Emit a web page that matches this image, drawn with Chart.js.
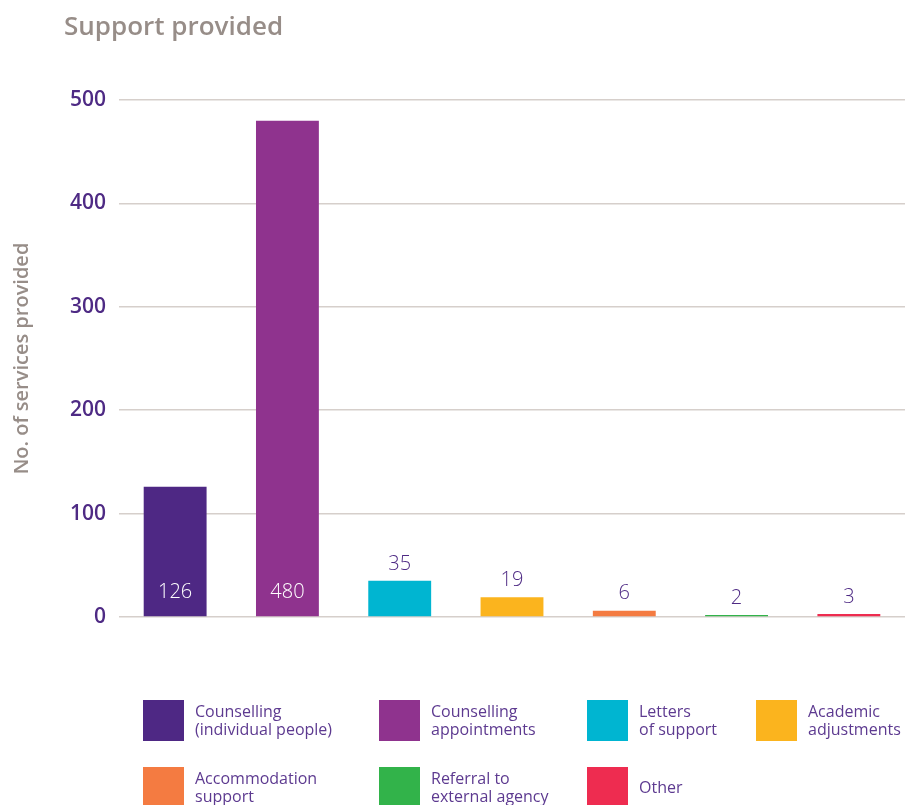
<!DOCTYPE html>
<html>
<head>
<meta charset="utf-8">
<script src="https://cdn.jsdelivr.net/npm/chart.js@4.4.1/dist/chart.umd.min.js"></script>
<style>
    html, body { margin: 0; padding: 0; background: #fff; }
    #wrap { position: relative; width: 905px; height: 805px; overflow: hidden; }
</style>
</head>
<body>
<div id="wrap"><canvas id="graficoApoyo" width="905" height="805"></canvas></div>
<script>
// --- Datos ---
const categorias = [
    "Counselling (individual people)",
    "Counselling appointments",
    "Letters of support",
    "Academic adjustments",
    "Accommodation support",
    "Referral to external agency",
    "Other"
];
const leyendaLineas = [
    ["Counselling", "(individual people)"],
    ["Counselling", "appointments"],
    ["Letters", "of support"],
    ["Academic", "adjustments"],
    ["Accommodation", "support"],
    ["Referral to", "external agency"],
    ["Other"]
];
const valores = [126, 480, 35, 19, 6, 2, 3];
const colores = ["#4e2884", "#8f338e", "#00b5d1", "#fbb41e", "#f47b41", "#32b34a", "#ee2c50"];
const ticksY = [0, 100, 200, 300, 400, 500];

const FUENTE = "'Open Sans', 'Noto Sans', sans-serif";
const MORADO = "#4e2a84";
const GRIS = "#978d88";

// --- Titulo arriba a la izquierda ---
const tituloPlugin = {
    id: "titulo",
    afterDraw(chart) {
        const ctx = chart.ctx;
        ctx.save();
        ctx.font = "600 26px " + FUENTE;
        ctx.fillStyle = GRIS;
        ctx.textAlign = "left";
        ctx.textBaseline = "alphabetic";
        ctx.fillText("Support provided", 64, 35);
        ctx.restore();
    }
};

// --- Etiquetas de valor: dentro de la barra si cabe, encima si no ---
const etiquetasPlugin = {
    id: "etiquetas",
    afterDatasetsDraw(chart) {
        const ctx = chart.ctx;
        const meta = chart.getDatasetMeta(0);
        const base = chart.scales.y.getPixelForValue(0);
        ctx.save();
        ctx.font = "300 20px " + FUENTE;
        ctx.textAlign = "center";
        ctx.textBaseline = "middle";
        meta.data.forEach((bar, i) => {
            const alto = base - bar.y;
            if (alto > 60) {
                ctx.fillStyle = "#ffffff";
                ctx.fillText(valores[i], bar.x, base - 25);
            } else {
                ctx.fillStyle = MORADO;
                ctx.fillText(valores[i], bar.x, bar.y - 17);
            }
        });
        ctx.restore();
    }
};

// --- Leyenda en cuadricula de 4 columnas ---
const leyendaPlugin = {
    id: "leyendaCuadros",
    afterDraw(chart) {
        const ctx = chart.ctx;
        const columnas = [143, 379, 587, 756];
        const filas = [700, 767];
        const lado = 41;
        ctx.save();
        ctx.font = "400 16px " + FUENTE;
        ctx.textAlign = "left";
        ctx.textBaseline = "middle";
        categorias.forEach((c, i) => {
            const x = columnas[i % 4];
            const y = filas[Math.floor(i / 4)];
            ctx.fillStyle = colores[i];
            ctx.fillRect(x, y, lado, lado);
            ctx.fillStyle = "#5d3a90";
            const lineas = leyendaLineas[i];
            const centro = y + lado / 2 + 1;
            const alto = 18;
            lineas.forEach((t, k) => {
                const ty = centro + (k - (lineas.length - 1) / 2) * alto;
                ctx.fillText(t, x + 52, ty);
            });
        });
        ctx.restore();
    }
};

new Chart(document.getElementById("graficoApoyo").getContext("2d"), {
    type: "bar",
    data: {
        labels: categorias,
        datasets: [{
            label: "No. of services provided",
            data: valores,
            backgroundColor: colores,
            borderWidth: 0,
            barPercentage: 0.56,
            categoryPercentage: 1
        }]
    },
    options: {
        responsive: false,
        animation: false,
        layout: {
            padding: { top: 100, bottom: 188, left: 0, right: 0 }
        },
        plugins: {
            legend: { display: false },
            tooltip: { enabled: false }
        },
        scales: {
            x: { display: false },
            y: {
                min: 0,
                max: 500,
                afterBuildTicks(scale) {
                    scale.ticks = ticksY.map(v => ({ value: v }));
                },
                afterFit(scale) {
                    scale.width = 119;
                },
                border: { display: false },
                grid: {
                    color: "#d6cfcb",
                    lineWidth: 1.5,
                    drawTicks: false
                },
                ticks: {
                    color: MORADO,
                    padding: 13,
                    font: { family: FUENTE, size: 21, weight: "600" }
                },
                title: {
                    display: true,
                    text: "No. of services provided",
                    color: GRIS,
                    padding: { top: 10, bottom: 0 },
                    font: { family: FUENTE, size: 20, weight: "600" }
                }
            }
        }
    },
    plugins: [tituloPlugin, etiquetasPlugin, leyendaPlugin]
});
</script>
</body>
</html>
